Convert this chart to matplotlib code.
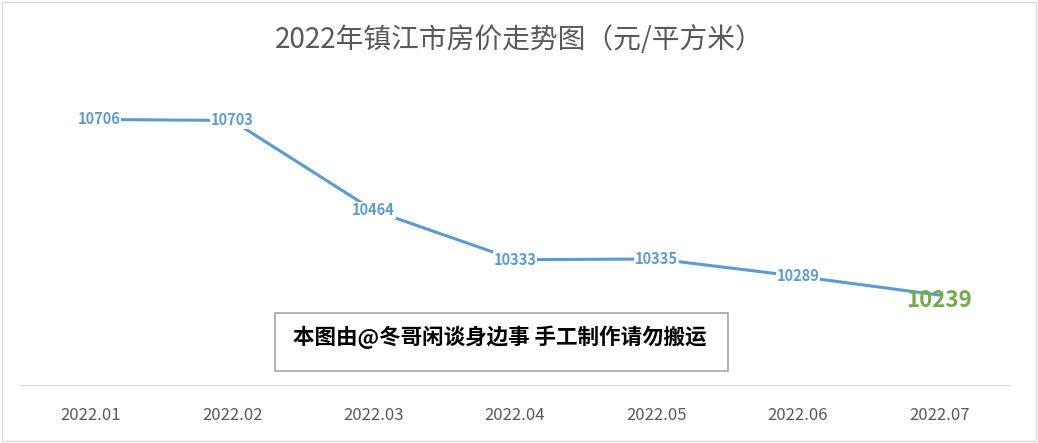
import matplotlib
matplotlib.use("Agg")
import matplotlib.pyplot as plt
from matplotlib.patches import Rectangle

plt.rcParams['font.family'] = ['Noto Sans CJK SC', 'DejaVu Sans']

months = ["2022.01", "2022.02", "2022.03", "2022.04", "2022.05", "2022.06", "2022.07"]
prices = [10706, 10703, 10464, 10333, 10335, 10289, 10239]
title = "2022年镇江市房价走势图（元/平方米）"
note = "本图由@冬哥闲谈身边事 手工制作请勿搬运"

W, H = 1038, 443
fig = plt.figure(figsize=(W/100, H/100), dpi=100)
fig.patch.set_facecolor('white')
fig.patches.append(Rectangle((2/W, 2/H), 1-4/W, 1-4/H, transform=fig.transFigure,
                             fill=False, edgecolor='#d9d9d9', lw=1))

ax = fig.add_axes([20/W, 1-385/H, 990/W, 301/H])
x = list(range(len(months)))
ax.plot(x, prices, color='#5b9bd5', lw=2.2)
ax.set_xlim(-0.5, 6.5)
ax.set_ylim(10000, 10800)
ax.set_yticks([])
ax.set_xticks(x)
ax.set_xticklabels(months, color='#595959', fontsize=12)
ax.tick_params(axis='x', length=0, pad=16)
for s in ['top', 'right', 'left']:
    ax.spines[s].set_visible(False)
ax.spines['bottom'].set_color('#d9d9d9')
ax.patch.set_alpha(0)

for i, v in enumerate(prices):
    if i == len(prices) - 1:
        ax.text(i, v - 15, str(v), color='#70ad47', fontsize=16, fontweight='bold',
                ha='center', va='center')
    else:
        ax.text(i + 0.06 if i == 0 else i, v, str(v), color='#5b9bd5', fontsize=10.5,
                fontweight='bold', ha='center', va='center',
                bbox=dict(facecolor='white', edgecolor='none', pad=0.5))

fig.text(0.5, 1-40/H, title, ha='center', va='center', color='#595959', fontsize=20)
fig.text(500/W, 1-337/H, note, ha='center', va='center', fontsize=15.5, fontweight='bold',
         color='black')
fig.patches.append(Rectangle((275/W, 1-371/H), 453/W, 58/H, transform=fig.transFigure,
                             fill=False, edgecolor='#a6a6a6', lw=1.2))
fig.savefig('out.png', dpi=100)
